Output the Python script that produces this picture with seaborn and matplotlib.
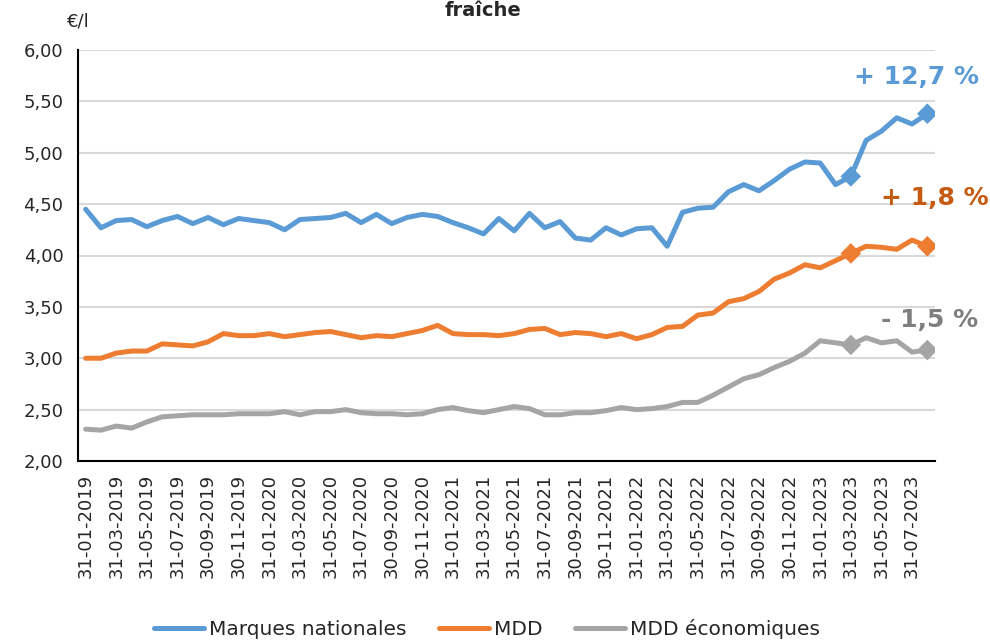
import pandas as pd
import numpy as np
import seaborn as sns
import matplotlib.pyplot as plt

# monthly average price (EUR per litre), Jan 2019 -> Aug 2023
months = pd.date_range('2019-01-31', periods=56, freq='ME')

marques_nationales = [4.45, 4.27, 4.34, 4.35, 4.28, 4.34, 4.38, 4.31, 4.37, 4.30,
                      4.36, 4.34, 4.32, 4.25, 4.35, 4.36, 4.37, 4.41, 4.32, 4.40,
                      4.31, 4.37, 4.40, 4.38, 4.32, 4.27, 4.21, 4.36, 4.24, 4.41,
                      4.27, 4.33, 4.17, 4.15, 4.27, 4.20, 4.26, 4.27, 4.09, 4.42,
                      4.46, 4.47, 4.62, 4.69, 4.63, 4.73, 4.84, 4.91, 4.90, 4.69,
                      4.77, 5.12, 5.21, 5.34, 5.28, 5.38]
mdd = [3.00, 3.00, 3.05, 3.07, 3.07, 3.14, 3.13, 3.12, 3.16, 3.24,
       3.22, 3.22, 3.24, 3.21, 3.23, 3.25, 3.26, 3.23, 3.20, 3.22,
       3.21, 3.24, 3.27, 3.32, 3.24, 3.23, 3.23, 3.22, 3.24, 3.28,
       3.29, 3.23, 3.25, 3.24, 3.21, 3.24, 3.19, 3.23, 3.30, 3.31,
       3.42, 3.44, 3.55, 3.58, 3.65, 3.77, 3.83, 3.91, 3.88, 3.95,
       4.02, 4.09, 4.08, 4.06, 4.15, 4.09]
mdd_eco = [2.31, 2.30, 2.34, 2.32, 2.38, 2.43, 2.44, 2.45, 2.45, 2.45,
           2.46, 2.46, 2.46, 2.48, 2.45, 2.48, 2.48, 2.50, 2.47, 2.46,
           2.46, 2.45, 2.46, 2.50, 2.52, 2.49, 2.47, 2.50, 2.53, 2.51,
           2.45, 2.45, 2.47, 2.47, 2.49, 2.52, 2.50, 2.51, 2.53, 2.57,
           2.57, 2.64, 2.72, 2.80, 2.84, 2.91, 2.97, 3.05, 3.17, 3.15,
           3.13, 3.20, 3.15, 3.17, 3.06, 3.08]

series_names = ['Marques nationales', 'MDD', 'MDD économiques']
line_colors = ['#5B9BD5', '#ED7D31', '#A5A5A5']
label_colors = ['#5B9BD5', '#C55A11', '#7F7F7F']
evolutions = ['+ 12,7 %', '+ 1,8 %', '- 1,5 %']
marked_idx = [50, 55]  # 31-03-2023 and last month

df = pd.DataFrame({'idx': np.arange(len(months)),
                   series_names[0]: marques_nationales,
                   series_names[1]: mdd,
                   series_names[2]: mdd_eco})
long = df.melt(id_vars='idx', var_name='serie', value_name='prix')

sns.set_style('white')
plt.rcParams['font.family'] = ['DejaVu Sans']

fig = plt.figure(figsize=(9.9, 6.43), dpi=100)
ax = fig.add_axes([78 / 990, 1 - 461 / 643, (935 - 78) / 990, (461 - 50) / 643])

sns.lineplot(data=long, x='idx', y='prix', hue='serie', palette=line_colors,
             linewidth=3.6, ax=ax, legend=True)
marks = long[long['idx'].isin(marked_idx)]
sns.scatterplot(data=marks, x='idx', y='prix', hue='serie', palette=line_colors,
                marker='D', s=110, linewidth=0, ax=ax, legend=False, zorder=5)

ax.set_ylim(2, 6)
ax.set_yticks(np.arange(2, 6.01, 0.5))
ax.set_yticklabels([f'{v:.2f}'.replace('.', ',') for v in np.arange(2, 6.01, 0.5)])
ax.yaxis.grid(True, color='#D9D9D9', linewidth=1.5)
ax.set_axisbelow(True)

n = len(months)
ax.set_xlim(-0.5, n - 0.5)
ax.set_xticks(np.arange(-0.5, n, 1.0))
ax.set_xticklabels([])
ax.set_xticks(np.arange(0, n, 2), minor=True)
ax.set_xticklabels([months[i].strftime('%d-%m-%Y') for i in range(0, n, 2)],
                   minor=True, rotation=90, fontsize=13)
ax.tick_params(axis='x', which='major', length=7, width=1.3, color='black', direction='out')
ax.tick_params(axis='x', which='minor', length=0, pad=9)
ax.tick_params(axis='y', length=7, width=1.3, color='black', labelsize=13, direction='out')
ax.set_xlabel('')
ax.set_ylabel('')

for side in ['top', 'right']:
    ax.spines[side].set_visible(False)
for side in ['left', 'bottom']:
    ax.spines[side].set_color('black')
    ax.spines[side].set_linewidth(1.5)

handles, labels = ax.get_legend_handles_labels()
ax.legend_.remove()
fig.legend(handles, labels, loc='center', bbox_to_anchor=(487 / 990, 1 - 629 / 643),
           ncol=3, frameon=False, fontsize=14.5, handlelength=2.5, handletextpad=0.25,
           columnspacing=1.6)

label_pos = [(916, 77), (935, 198), (930, 320)]
for txt, col, (px, py) in zip(evolutions, label_colors, label_pos):
    fig.text(px / 990, 1 - py / 643, txt, color=col, fontsize=18, fontweight='bold',
             ha='center', va='center')

fig.text(78 / 990, 1 - 22 / 643, '€/l', fontsize=13, ha='center', va='center')
fig.text(483 / 990, 0.999, 'fraîche', fontsize=14, fontweight='bold',
         ha='center', va='top')

fig.savefig('out.png', dpi=100)
